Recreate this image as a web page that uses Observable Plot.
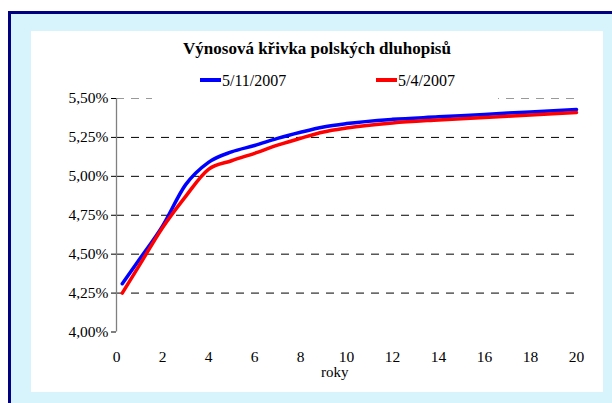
<!DOCTYPE html>
<html>
<head>
<meta charset="utf-8">
<script src="https://cdn.jsdelivr.net/npm/d3@7"></script>
<script src="https://cdn.jsdelivr.net/npm/@observablehq/plot@0.6"></script>
<style>
  html, body { margin: 0; padding: 0; background: #fff; width: 612px; height: 403px; overflow: hidden; font-family: "Liberation Serif", "Times New Roman", serif; }
  #frame { position: absolute; left: 8px; top: 11px; width: 604px; height: 392px; box-sizing: border-box; border-left: 3px solid #000080; border-top: 3px solid #000080; background: #d7f4fd; }
  #panel { position: absolute; left: 31px; top: 31px; width: 572px; height: 361px; background: #fff; }
  #title { position: absolute; left: 31px; width: 572px; top: 39px; text-align: center; font-weight: bold; font-size: 17px; color: #000; }
  #legend { position: absolute; left: 152px; width: 346px; top: 70px; height: 32px; background: #fff; }
  .item { position: absolute; top: 2px; font-size: 16px; color: #000; white-space: nowrap; }
  .swatch { display: inline-block; width: 21px; height: 4px; vertical-align: middle; margin-right: 1px; position: relative; top: -2px; }
  #chart { position: absolute; left: 0; top: 0; }
  #chart svg text { font-family: "Liberation Serif", "Times New Roman", serif; }
  #xlabel { position: absolute; left: 321px; top: 364px; font-size: 15px; color: #000; }
</style>
</head>
<body>
<div id="frame"></div>
<div id="panel"></div>
<div id="chart"></div>
<div id="title"></div>
<div id="legend"></div>
<div id="xlabel"></div>
<script>
const chartTitle = "Výnosová křivka polských dluhopisů";
const xAxisLabel = "roky";
const seriesNames = ["5/11/2007", "5/4/2007"];
const seriesColors = ["#0000ff", "#ff0000"];
const maturities = [0.25, 1, 2, 3, 4, 5, 6, 7, 8, 9, 10, 12, 14, 16, 18, 20];
const yields_5_11 = [4.31, 4.467, 4.68, 4.945, 5.09, 5.157, 5.198, 5.244, 5.283, 5.317, 5.339, 5.366, 5.382, 5.398, 5.414, 5.43];
const yields_5_4  = [4.25, 4.43, 4.67, 4.87, 5.045, 5.10, 5.148, 5.20, 5.245, 5.285, 5.31, 5.343, 5.362, 5.378, 5.394, 5.41];
const yTicks = [4.00, 4.25, 4.50, 4.75, 5.00, 5.25, 5.50];
const xTicks = [0, 2, 4, 6, 8, 10, 12, 14, 16, 18, 20];

const data = [];
maturities.forEach((m, i) => {
  data.push({x: m, y: yields_5_11[i], s: seriesNames[0]});
  data.push({x: m, y: yields_5_4[i], s: seriesNames[1]});
});

document.getElementById("title").textContent = chartTitle;
document.getElementById("xlabel").textContent = xAxisLabel;

const legend = document.getElementById("legend");
const legendLefts = [48, 224];
seriesNames.forEach((n, i) => {
  const it = document.createElement("div");
  it.className = "item";
  it.style.left = legendLefts[i] + "px";
  const sw = document.createElement("span");
  sw.className = "swatch";
  sw.style.background = seriesColors[i];
  it.appendChild(sw);
  it.appendChild(document.createTextNode(n));
  legend.appendChild(it);
});

const fmt = d => d.toFixed(2).replace(".", ",") + "%";

const plot = Plot.plot({
  width: 612,
  height: 403,
  marginLeft: 116,
  marginRight: 36,
  marginTop: 98,
  marginBottom: 71.5,
  style: {background: "transparent", fontFamily: "'Liberation Serif', 'Times New Roman', serif", fontSize: "15px", color: "#000"},
  x: {domain: [0, 20]},
  y: {domain: [4, 5.5]},
  color: {domain: seriesNames, range: seriesColors},
  marks: [
    Plot.ruleY(yTicks.filter(d => d > 4), {stroke: d => d === 5.5 ? "#999" : "#000", strokeWidth: 1, strokeDasharray: "8,7"}),
    Plot.ruleX([0], {stroke: "#808080", strokeWidth: 1.3}),
    Plot.axisY({ticks: yTicks, tickFormat: fmt, tickSize: 5, tickPadding: 3, stroke: "#000", label: null, fontSize: 15.5}),
    Plot.axisX({ticks: xTicks, tickSize: 0, tickPadding: 19, label: null, fontSize: 15.5}),
    Plot.line(data, {x: "x", y: "y", z: "s", stroke: "s", strokeWidth: 3.5, curve: "monotone-x"})
  ]
});
document.getElementById("chart").appendChild(plot);
</script>
</body>
</html>
